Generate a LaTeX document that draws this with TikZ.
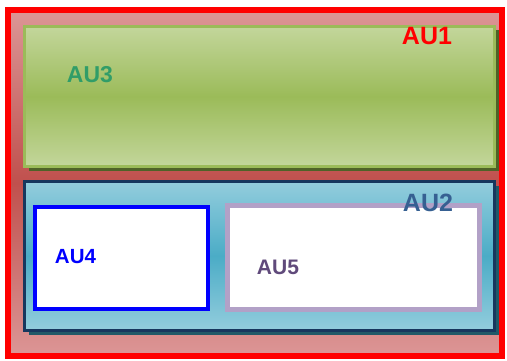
\documentclass[tikz,border=0pt]{standalone}
\usepackage{fontspec}
\setmainfont{Liberation Sans}
\definecolor{auredline}{RGB}{255,0,0}
\definecolor{auredlight}{RGB}{220,150,150}
\definecolor{auredmid}{RGB}{192,80,77}
\definecolor{augreenlight}{RGB}{195,214,155}
\definecolor{augreenmid}{RGB}{155,187,89}
\definecolor{augreendark}{RGB}{79,98,40}
\definecolor{aubluelight}{RGB}{147,205,221}
\definecolor{aubluemid}{RGB}{75,172,198}
\definecolor{aunavy}{RGB}{23,55,94}
\definecolor{auteal}{RGB}{33,89,104}
\definecolor{aulilac}{RGB}{178,161,199}
\definecolor{authree}{RGB}{49,157,104}
\definecolor{autwo}{RGB}{54,96,146}
\definecolor{aufive}{RGB}{96,74,123}
\tikzset{
  outerbox/.style = {
    draw=auredline,
    line width=6pt
  },
  greenbox/.style = {
    draw=augreenmid,
    line width=2.5pt
  },
  bluebox/.style = {
    draw=aunavy,
    line width=3pt
  },
  innerbox/.style = {
    fill=white,
    line width=4pt
  },
  aulabel/.style = {
    inner sep=0pt,
    font={\bfseries\fontsize{#1}{#1}\selectfont}
  },
}

\begin{document}
\begin{tikzpicture}[x=1pt,y=-1pt]

  \useasboundingbox (0,0) rectangle (507,361);

  % outer unit
  \shade[top color=auredlight, bottom color=auredlight, middle color=auredmid]
    (8,10) rectangle (502,356);
  \draw[outerbox] (8,10) rectangle (502,356);

  % upper unit
  \fill[augreendark] (28.5,30.5) rectangle (498.5,171);
  \shade[top color=augreenlight, bottom color=augreenlight, middle color=augreenmid]
    (24.5,26.5) rectangle (494.5,166.5);
  \draw[greenbox] (24.5,26.5) rectangle (494.5,166.5);

  % lower unit
  \fill[auteal] (28.5,186) rectangle (498.5,335);
  \shade[top color=aubluelight, bottom color=aubluelight, middle color=aubluemid]
    (24,181.5) rectangle (494,330);
  \draw[bluebox] (24,181.5) rectangle (494,330);

  \draw[innerbox, draw=blue, line width=3.5pt] (35,207) rectangle (208,309);
  \draw[innerbox, draw=aulilac, line width=5pt] (227,206) rectangle (479.5,309);

  % labels
  \node[aulabel=25, text=auredline] (au1) at (427,36) {AU1};
  \node[aulabel=25, text=autwo] (au2) at (428,203) {AU2};
  \node[aulabel=23, text=authree] (au3) at (90,75) {AU3};
  \node[aulabel=20.5, text=blue] (au4) at (75.5,257) {AU4};
  \node[aulabel=21, text=aufive] (au5) at (278,267) {AU5};

\end{tikzpicture}
\end{document}
